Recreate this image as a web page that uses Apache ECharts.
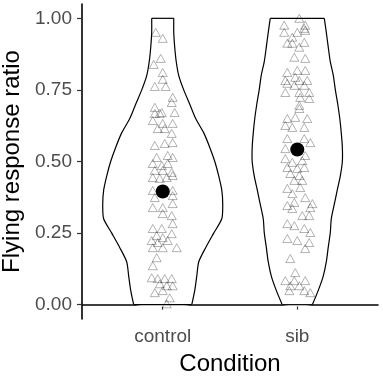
<!DOCTYPE html>
<html>
<head>
<meta charset="utf-8">
<script src="https://cdn.jsdelivr.net/npm/echarts@6/dist/echarts.min.js"></script>
<style>
  html, body { margin: 0; padding: 0; background: #fff; }
  #chart { width: 383px; height: 378px; }
</style>
</head>
<body>
<div id="chart"></div>
<script>
const categories = ["control", "sib"];
const yTicks = [0, 0.25, 0.5, 0.75, 1];

// violin outline: half-width (x units) at each y level
const violinY = [0, 0.05, 0.1, 0.15, 0.2, 0.25, 0.3, 0.35, 0.4, 0.45, 0.5, 0.55, 0.6, 0.65, 0.7, 0.75, 0.8, 0.85, 0.9, 0.95, 1.0];
const controlWidth = [0.216, 0.238, 0.253, 0.268, 0.32, 0.379, 0.439, 0.446, 0.439, 0.416, 0.387, 0.349, 0.305, 0.245, 0.201, 0.156, 0.119, 0.1, 0.089, 0.082, 0.082];
const sibWidth = [0.112, 0.156, 0.193, 0.216, 0.23, 0.245, 0.253, 0.275, 0.297, 0.32, 0.335, 0.335, 0.327, 0.316, 0.301, 0.283, 0.268, 0.245, 0.23, 0.216, 0.201];

// jittered observations [x, ratio]
const controlPoints = [
  [0.948, 0.951], [1.0, 0.93], [0.985, 0.86], [0.933, 0.839], [1.0, 0.811], [1.0, 0.787],
  [0.941, 0.762], [1.022, 0.762], [1.074, 0.724], [1.067, 0.706], [0.941, 0.689], [0.993, 0.671],
  [1.089, 0.671], [0.941, 0.668], [0.978, 0.668], [0.926, 0.643], [1.0, 0.633], [1.074, 0.633],
  [0.963, 0.615], [1.015, 0.615], [1.067, 0.598], [0.941, 0.556], [1.015, 0.563], [1.074, 0.566],
  [0.955, 0.514], [1.037, 0.521], [1.074, 0.514], [0.926, 0.493], [0.993, 0.486], [1.037, 0.493],
  [0.941, 0.469], [1.0, 0.469], [1.067, 0.462], [0.926, 0.444], [0.978, 0.441], [1.03, 0.444],
  [1.074, 0.451], [0.926, 0.399], [1.074, 0.399], [0.941, 0.374], [1.074, 0.381], [0.926, 0.339],
  [1.0, 0.339], [1.074, 0.353], [1.0, 0.318], [1.067, 0.311], [0.926, 0.266], [0.993, 0.266],
  [1.074, 0.283], [0.955, 0.241], [1.0, 0.234], [1.067, 0.248], [0.918, 0.224], [0.963, 0.217],
  [1.037, 0.224], [0.926, 0.199], [1.0, 0.199], [1.104, 0.199], [0.955, 0.164], [0.926, 0.136],
  [0.918, 0.094], [0.963, 0.091], [1.015, 0.091], [1.067, 0.091], [0.978, 0.073], [1.03, 0.066],
  [1.074, 0.066], [0.941, 0.042], [1.0, 0.049], [1.052, 0.024], [1.03, 0.003]
];
const sibPoints = [
  [2.015, 1.0], [1.903, 0.976], [2.059, 0.976], [2.052, 0.965], [1.903, 0.951], [2.0, 0.951],
  [2.059, 0.958], [1.963, 0.934], [2.052, 0.916], [1.926, 0.913], [1.963, 0.913], [2.015, 0.899],
  [1.978, 0.864], [2.059, 0.86], [1.926, 0.811], [2.0, 0.818], [2.059, 0.818], [1.911, 0.783],
  [1.985, 0.794], [2.015, 0.783], [2.074, 0.783], [1.926, 0.773], [1.978, 0.766], [2.052, 0.766],
  [1.911, 0.741], [2.015, 0.741], [2.089, 0.741], [2.022, 0.724], [2.089, 0.72], [2.015, 0.696],
  [2.015, 0.685], [1.926, 0.65], [1.985, 0.654], [2.074, 0.65], [1.911, 0.626], [1.963, 0.619],
  [2.052, 0.619], [1.926, 0.58], [2.052, 0.58], [2.097, 0.566], [1.911, 0.545], [2.059, 0.521],
  [1.911, 0.51], [1.963, 0.497], [2.037, 0.503], [1.926, 0.479], [2.0, 0.476], [2.052, 0.479],
  [1.948, 0.458], [2.015, 0.451], [1.978, 0.434], [2.037, 0.434], [1.926, 0.406], [2.022, 0.409],
  [1.963, 0.388], [2.059, 0.374], [1.978, 0.357], [2.112, 0.353], [1.926, 0.346], [1.963, 0.336],
  [2.097, 0.339], [2.037, 0.311], [2.089, 0.311], [1.926, 0.283], [1.978, 0.276], [2.052, 0.266],
  [2.097, 0.252], [1.926, 0.231], [2.0, 0.224], [2.089, 0.217], [2.059, 0.196], [1.948, 0.161],
  [1.985, 0.112], [1.911, 0.084], [1.978, 0.084], [2.059, 0.084], [1.948, 0.066], [2.015, 0.066],
  [1.941, 0.049], [2.052, 0.049], [2.097, 0.042]
];

const means = [0.395, 0.542];

const widths = [controlWidth, sibWidth];
const font = "'Liberation Sans', Arial, sans-serif";

const chart = echarts.init(document.getElementById("chart"));

chart.setOption({
  animation: false,
  grid: { left: 82, right: 5, top: 4, bottom: 59, containLabel: false, outerBoundsMode: "none" },
  xAxis: {
    type: "value",
    min: 0.4,
    max: 2.6,
    name: "Condition",
    nameLocation: "middle",
    nameGap: 33,
    nameTextStyle: { color: "#000", fontSize: 24, fontFamily: font },
    axisLine: { show: true, lineStyle: { color: "#000", width: 1.6 } },
    axisTick: { show: true, customValues: [1, 2], length: 5, lineStyle: { color: "#333", width: 1.2 } },
    axisLabel: {
      customValues: [1, 2],
      formatter: (v) => categories[Math.round(v) - 1],
      color: "#4d4d4d",
      fontSize: 19,
      fontFamily: font,
      margin: 8
    },
    splitLine: { show: false }
  },
  yAxis: {
    type: "value",
    min: -0.05,
    max: 1.05,
    name: "Flying response ratio",
    nameLocation: "middle",
    nameGap: 54,
    nameTextStyle: { color: "#000", fontSize: 24, fontFamily: font },
    axisLine: { show: true, lineStyle: { color: "#000", width: 1.6 } },
    axisTick: { show: true, customValues: yTicks, length: 5, lineStyle: { color: "#333", width: 1.2 } },
    axisLabel: {
      customValues: yTicks,
      formatter: (v) => v.toFixed(2),
      color: "#4d4d4d",
      fontSize: 19,
      fontFamily: font,
      margin: 10
    },
    splitLine: { show: false }
  },
  series: [
    {
      type: "custom",
      data: [[1, 0.5], [2, 0.5]],
      renderItem: (params, api) => {
        const i = params.dataIndex;
        const w = widths[i];
        const cx = i + 1;
        const left = violinY.map((y, k) => api.coord([cx - w[k], y]));
        const right = violinY.map((y, k) => api.coord([cx + w[k], y]));
        const n = violinY.length - 1;
        const lineStyle = { fill: null, stroke: "#000", lineWidth: 1.2 };
        return {
          type: "group",
          children: [
            {
              type: "polygon",
              shape: { points: left.concat(right.slice().reverse()), smooth: 0.25 },
              style: { fill: "#fff", stroke: null }
            },
            { type: "polyline", shape: { points: left, smooth: 0.25 }, style: lineStyle },
            { type: "polyline", shape: { points: right, smooth: 0.25 }, style: lineStyle },
            { type: "line", shape: { x1: left[0][0], y1: left[0][1], x2: right[0][0], y2: right[0][1] }, style: lineStyle },
            { type: "line", shape: { x1: left[n][0], y1: left[n][1], x2: right[n][0], y2: right[n][1] }, style: lineStyle }
          ]
        };
      },
      z: 1
    },
    {
      type: "scatter",
      data: controlPoints.concat(sibPoints),
      symbol: "triangle",
      symbolSize: [9, 8],
      itemStyle: { color: "rgba(0,0,0,0)", borderColor: "rgba(0,0,0,0.38)", borderWidth: 0.8, opacity: 1 },
      z: 2
    },
    {
      type: "scatter",
      data: means.map((m, i) => [i + 1, m]),
      symbol: "circle",
      symbolSize: 14,
      itemStyle: { color: "#000", opacity: 1 },
      z: 3
    }
  ]
});
</script>
</body>
</html>
